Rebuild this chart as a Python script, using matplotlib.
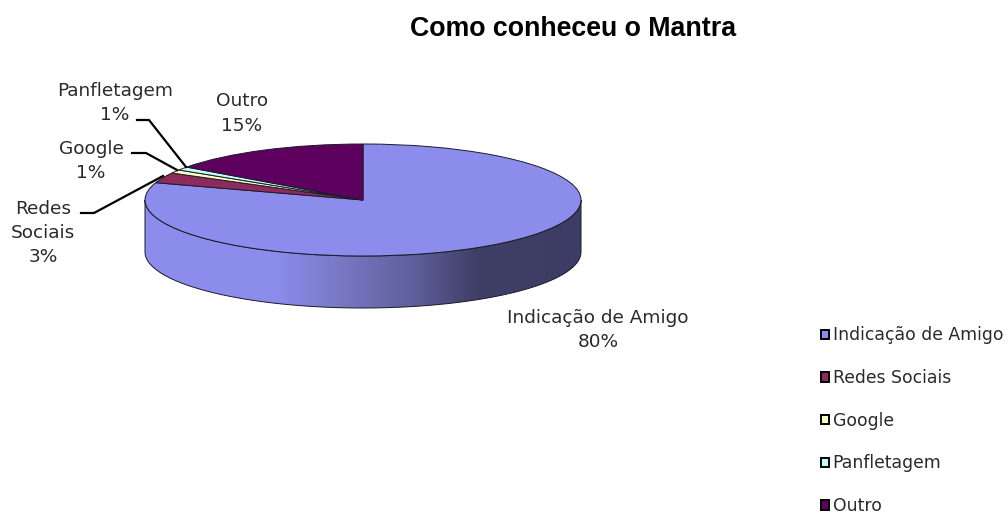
import numpy as np
import matplotlib
matplotlib.use('Agg')
import matplotlib.pyplot as plt
from matplotlib.colors import LinearSegmentedColormap
from matplotlib.patches import Patch, Polygon

plt.rcParams['font.family'] = ['DejaVu Sans']

categories = ['Indicação de Amigo', 'Redes Sociais', 'Google', 'Panfletagem', 'Outro']
values = [80, 3, 1, 1, 15]
colors = ['#8C8CEC', '#8E2A5E', '#FCFCC4', '#C4FCFC', '#5E005E']

W, H = 1008, 516
cx, cy, rx, ry = 363, 200, 218, 56
depth = 52 / ry

fig = plt.figure(figsize=(W / 100, H / 100), dpi=100)

# pie axes fills the figure, squashed so the unit pie becomes the ellipse
ax = fig.add_axes([0, 0, 1, 1])
wedges, _ = ax.pie(values, colors=colors, startangle=90, counterclock=False,
                   wedgeprops={'edgecolor': '#1a1a2a', 'linewidth': 0.7, 'zorder': 3})
ax.set_aspect('auto')
ax.axis('off')

# side wall of the disc with the horizontal shading
t = np.linspace(np.pi, 2 * np.pi, 200)
wall_pts = np.vstack([np.c_[np.cos(t), np.sin(t)],
                      np.c_[np.cos(t[::-1]), np.sin(t[::-1]) - depth]])
wall = Polygon(wall_pts, closed=True, facecolor='none', edgecolor='#1a1a2a', linewidth=0.7, zorder=2)
ax.add_patch(wall)
shade = LinearSegmentedColormap.from_list('wall', [(0, '#8C8CEC'), (0.3, '#8C8CEC'), (0.45, '#7878C4'),
                                                   (0.62, '#5E5E9A'), (0.76, '#3F3F68'), (1, '#3C3C64')])
img = ax.imshow(np.linspace(0, 1, 256)[None, :], cmap=shade, extent=(-1, 1, -1 - depth, 0),
                aspect='auto', zorder=1)
img.set_clip_path(wall)
ax.set_xlim(-cx / rx, (W - cx) / rx)
ax.set_ylim((cy - H) / ry, cy / ry)

# overlay in pixel coordinates for the labels
ov = fig.add_axes([0, 0, 1, 1])
ov.set_xlim(0, W)
ov.set_ylim(H, 0)
ov.axis('off')
ov.patch.set_alpha(0)

ov.text(573, 29.5, 'Como conheceu o Mantra', ha='center', va='center', fontsize=19.3, fontweight='bold',
        color='black', family='Liberation Sans')

tc = '#2a2a2a'
fs = 13.3
ls = 1.45
ov.text(115, 103, 'Panfletagem\n1%', ha='center', va='center', fontsize=fs, color=tc, linespacing=ls)
ov.text(242, 113.5, 'Outro\n15%', ha='center', va='center', fontsize=fs, color=tc, linespacing=ls)
ov.text(91, 161, 'Google\n1%', ha='center', va='center', fontsize=fs, color=tc, linespacing=ls)
ov.text(43, 233, 'Redes\nSociais\n3%', ha='center', va='center', fontsize=fs, color=tc, linespacing=ls)
ov.text(598, 330, 'Indicação de Amigo\n80%', ha='center', va='center', fontsize=fs, color=tc, linespacing=ls)

ov.plot([137, 149, 186], [120, 120, 167], color='black', lw=1.6)
ov.plot([132, 146, 177], [153, 153, 170], color='black', lw=1.6)
ov.plot([81, 94, 163], [213, 213, 176], color='black', lw=1.6)

handles = [Patch(facecolor=c, edgecolor='black', linewidth=1.4) for c in colors]
ov.legend(handles, categories, loc='upper left', bbox_to_anchor=(821 / W, 1 - 326.5 / H), frameon=False,
          fontsize=12.4, handlelength=0.47, handleheight=0.47, handletextpad=0.2, borderpad=0, borderaxespad=0,
          labelspacing=1.43, labelcolor=tc)

fig.savefig('out.png', dpi=100)
